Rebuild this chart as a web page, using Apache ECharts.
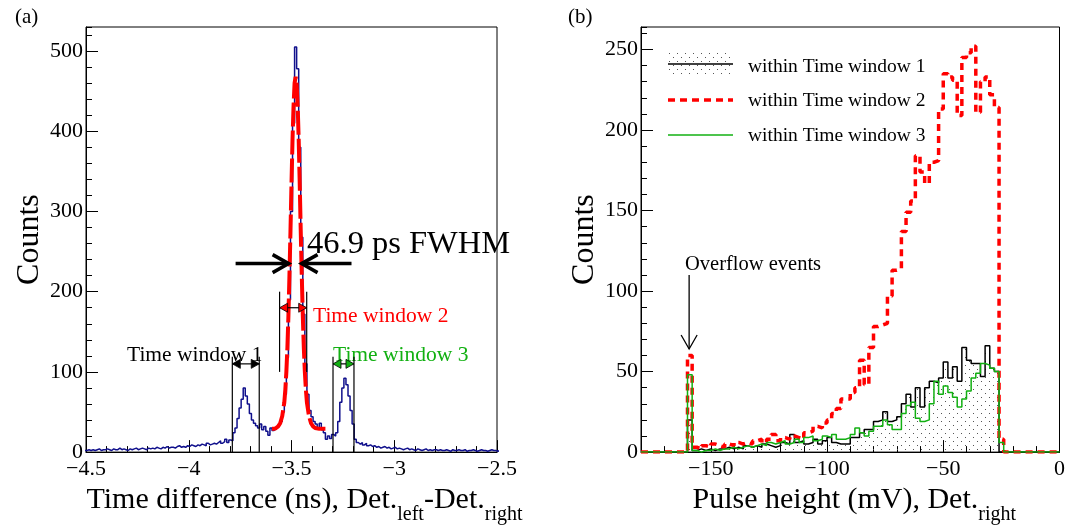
<!DOCTYPE html>
<html><head><meta charset="utf-8">
<script src="https://cdn.jsdelivr.net/npm/echarts@6/dist/echarts.min.js"></script>
<style>html,body{margin:0;padding:0;background:#fff}#c{width:1068px;height:530px}</style>
</head><body><div id="c"></div>
<script>
// ---------- Panel (a): time difference histogram ----------
const timeBinStart = -4.505;
const timeBinWidth = 0.01;
const timeCounts = [
 2,3,
 2,3,2,3,4,2,3,3,4,3, 2,4,3,3,5,3,4,3,2,4, 3,4,5,3,4,5,4,3,5,4,
 5,4,6,5,4,6,5,7,5,6, 6,5,7,8,6,7,6,8,7,9, 8,7,9,8,10,9,8,11,9,10,
 11,10,12,14,11,13,16,12,15,14, 24,30,42,55,66,80,70,60,48,40,
 36,33,30,35,28,32,26,21,30,27, 29,31,34,38,50,72,118,190,300,410,
 505,478,380,268,172,110,72,52,44,38, 35,30,36,28,24,16,20,17,22,20,
 24,38,62,80,92,84,70,52,35,16, 12,10,12,9,11,8,9,7,8,6,
 7,5,6,7,5,6,4,5,6,4, 5,4,3,4,5,3,4,3,2,4,
 3,2,3,4,2,3,2,3,3,2, 3,2,2,3,2,1,3,2,2,3,
 2,2,3,1,2,2,3,2,1,2, 3,2,2,1,2,3,2,2,1,2
];
const fitTimes  = [-3.595,-3.585,-3.575,-3.565,-3.555,-3.545,-3.535,-3.53,-3.525,-3.52,-3.515,-3.51,-3.505,-3.50,-3.495,-3.49,-3.485,-3.48,-3.475,-3.47,-3.465,-3.46,-3.455,-3.45,-3.445,-3.44,-3.435,-3.43,-3.425,-3.415,-3.405,-3.395,-3.385,-3.365,-3.335];
const fitCounts = [29,29,30,32,36,45,62,78,100,130,170,220,275,335,390,432,460,468,460,432,390,335,275,220,170,130,100,78,62,45,36,32,30,29,29];
const timeTicks = [-4.5,-4,-3.5,-3,-2.5];
const countTicksA = [0,100,200,300,400,500];
// windows: [low edge, high edge, line bottom, line top, arrow height, colour index]
const timeWindows = [
 [-3.788,-3.657,0,119,110,0],
 [-3.558,-3.426,100,200,180,1],
 [-3.298,-3.196,0,119,110,2]
];
const windowLabels = ['Time window 1','Time window 2','Time window 3'];
// FWHM arrows: [tail, tip, height]
const fwhmArrows = [[-3.772,-3.514,235],[-3.208,-3.451,235]];

// ---------- Panel (b): pulse height histograms ----------
const pulseBinStart = -180;
const pulseBinWidth = 2;
const win1Counts = [
 0,0,0,0,0,0,0,0,0,0,
 20,1,2,1,2,1,2,2,3,2, 3,2,4,3,4,3,5,4,3,4,
 6,5,11,6,7,5,6,8,5,7, 9,6,5,5,5,9,9,12,14,14,
 19,20,25,19,20,22,30,36,28,40, 28,40,44,43,46,56,46,53,44,65,
 57,55,55,47,66,52,50,0,0,0, 0,0,0,0,0,0,0,0,0,0
];
const win2Counts = [
 0,0,0,0,0,0,0,0,0,0,
 60,3,2,4,3,5,4,3,5,4, 6,5,6,5,7,8,6,8,11,7,
 9,8,10,9,8,12,13,16,15,18, 20,24,27,33,33,37,40,57,42,65,
 78,79,80,97,113,114,137,149,156,184, 174,167,180,181,213,235,233,231,209,245,
 248,252,211,230,233,222,214,8,0,0, 0,0,0,0,0,0,0,0,0,0
];
const win3Counts = [
 0,0,0,0,0,0,0,0,0,0,
 48,1,0,1,1,2,1,2,2,3, 2,3,4,3,4,5,4,6,5,6,
 7,5,6,8,6,9,10,7,8,10, 9,11,8,8,9,11,15,12,10,13,
 16,16,20,17,14,14,24,29,31,21, 19,20,30,44,36,41,37,34,28,33,
 38,46,49,55,54,52,50,6,0,0, 0,0,0,0,0,0,0,0,0,0
];
const pulseTicks = [-150,-100,-50,0];
const countTicksB = [0,50,100,150,200,250];
const legendLabels = ['within Time window 1','within Time window 2','within Time window 3'];
// overflow arrow: [x, tail height, tip height]
const overflowArrow = [[-159.3,110,64]];

// ---------- helpers ----------
const FONT = 'Liberation Serif';
const RED = '#ff0000', GREEN = '#12b012', BLUE = '#10108c';
const COLORS = ['#000000', RED, GREEN];
function stepPoints(start, width, counts, toZero) {
  const pts = [];
  if (toZero) pts.push([start, 0]);
  counts.forEach((v, i) => {
    pts.push([+(start + i * width).toFixed(4), v]);
    pts.push([+(start + (i + 1) * width).toFixed(4), v]);
  });
  if (toZero) pts.push([+(start + counts.length * width).toFixed(4), 0]);
  return pts;
}
const minusFmt = v => String(+(+v).toFixed(4)).replace('-', '\u2212');

// dotted fill pattern
const pc = document.createElement('canvas');
pc.width = 8; pc.height = 8;
const pg = pc.getContext('2d');
pg.fillStyle = '#555';
pg.fillRect(1, 1, 1, 1); pg.fillRect(5, 5, 1, 1);
const dotPattern = { image: pc, repeat: 'repeat' };

const labelStyle = { fontFamily: FONT, fontSize: 22, color: '#000' };
function majorAxis(grid, min, max, ticks, extra) {
  return Object.assign({
    gridIndex: grid, type: 'value', min: min, max: max,
    axisLine: { show: true, onZero: false, lineStyle: { color: '#000', width: 1 } },
    axisTick: { show: true, inside: true, length: 12, customValues: ticks, lineStyle: { color: '#000', width: 1 } },
    axisLabel: Object.assign({ customValues: ticks, formatter: minusFmt }, labelStyle),
    splitLine: { show: false }
  }, extra);
}
function minorAxis(grid, min, max, interval, pos) {
  return {
    gridIndex: grid, type: 'value', min: min, max: max, interval: interval, position: pos,
    axisLine: { show: false, onZero: false },
    axisTick: { show: true, inside: true, length: 6, lineStyle: { color: '#000', width: 1 } },
    axisLabel: { show: false }, splitLine: { show: false }
  };
}
function xNameStyle(padLeft) {
  return {
    padding: [0, 0, 0, padLeft],
    rich: {
      a: { fontFamily: FONT, fontSize: 30, color: '#000', lineHeight: 50, verticalAlign: 'middle' },
      s: { fontFamily: FONT, fontSize: 20, color: '#000', lineHeight: 20, verticalAlign: 'bottom' }
    }
  };
}

const chart = echarts.init(document.getElementById('c'));
chart.setOption({
  animation: false,
  backgroundColor: '#fff',
  grid: [
    { left: 86, top: 27, width: 411, height: 433, show: true, borderColor: '#000', borderWidth: 1, backgroundColor: 'transparent' },
    { left: 641, top: 27, width: 422, height: 433, show: true, borderColor: '#000', borderWidth: 1, backgroundColor: 'transparent' }
  ],
  xAxis: [
    majorAxis(0, -4.5, -2.5, timeTicks, {
      position: 'bottom', axisLabel: Object.assign({ customValues: timeTicks, formatter: minusFmt, margin: 6 }, labelStyle),
      name: '{a|Time difference (ns), Det.}{s|left}{a|-Det.}{s|right}',
      nameLocation: 'middle', nameGap: 19, nameTextStyle: xNameStyle(26)
    }),
    minorAxis(0, -4.5, -2.5, 0.1, 'bottom'),
    majorAxis(1, -180, 0, pulseTicks, {
      position: 'bottom', axisLabel: Object.assign({ customValues: pulseTicks, formatter: minusFmt, margin: 6 }, labelStyle),
      name: '{a|Pulse height (mV), Det.}{s|right}',
      nameLocation: 'middle', nameGap: 19, nameTextStyle: xNameStyle(8)
    }),
    minorAxis(1, -180, 0, 10, 'bottom')
  ],
  yAxis: [
    majorAxis(0, 0, 530, countTicksA, {
      position: 'left', axisLabel: Object.assign({ customValues: countTicksA, margin: 3 }, labelStyle),
      name: 'Counts', nameLocation: 'middle', nameGap: 40,
      nameTextStyle: { fontFamily: FONT, fontSize: 32, color: '#000' }
    }),
    minorAxis(0, 0, 530, 20, 'left'),
    majorAxis(1, 0, 264, countTicksB, {
      position: 'left', axisLabel: Object.assign({ customValues: countTicksB, margin: 3 }, labelStyle),
      name: 'Counts', nameLocation: 'middle', nameGap: 40,
      nameTextStyle: { fontFamily: FONT, fontSize: 32, color: '#000' }
    }),
    minorAxis(1, 0, 264, 10, 'left')
  ],
  series: [
    { type: 'line', xAxisIndex: 0, yAxisIndex: 0, data: stepPoints(timeBinStart, timeBinWidth, timeCounts, false),
      showSymbol: false, clip: true, lineStyle: { color: BLUE, width: 1.5 }, z: 3 },
    { type: 'line', xAxisIndex: 0, yAxisIndex: 0, data: fitTimes.map((t, i) => [t, fitCounts[i]]),
      showSymbol: false, lineStyle: { color: RED, width: 4, type: [24, 4] }, z: 4 },
    { type: 'custom', xAxisIndex: 0, yAxisIndex: 0, data: timeWindows, z: 5,
      renderItem: function (params, api) {
        const lo = api.value(0), hi = api.value(1), y0 = api.value(2), y1 = api.value(3), ya = api.value(4);
        const c = COLORS[api.value(5)];
        const p0 = api.coord([lo, y0]), p1 = api.coord([lo, y1]);
        const q0 = api.coord([hi, y0]), q1 = api.coord([hi, y1]);
        const a = api.coord([lo, ya]), b = api.coord([hi, ya]);
        const L = 8, W = 4.5;
        const ls = { stroke: '#000', lineWidth: 1.2 };
        return { type: 'group', children: [
          { type: 'line', shape: { x1: p0[0], y1: p0[1], x2: p1[0], y2: p1[1] }, style: ls },
          { type: 'line', shape: { x1: q0[0], y1: q0[1], x2: q1[0], y2: q1[1] }, style: ls },
          { type: 'line', shape: { x1: a[0], y1: a[1], x2: b[0], y2: b[1] }, style: ls },
          { type: 'polygon', shape: { points: [[a[0], a[1]], [a[0] + L, a[1] - W], [a[0] + L, a[1] + W]] }, style: { fill: c, stroke: '#000', lineWidth: 0.8 } },
          { type: 'polygon', shape: { points: [[b[0], b[1]], [b[0] - L, b[1] - W], [b[0] - L, b[1] + W]] }, style: { fill: c, stroke: '#000', lineWidth: 0.8 } }
        ] };
      } },
    { type: 'custom', xAxisIndex: 0, yAxisIndex: 0, data: fwhmArrows, z: 5,
      renderItem: function (params, api) {
        const t = api.coord([api.value(0), api.value(2)]), h = api.coord([api.value(1), api.value(2)]);
        const d = h[0] > t[0] ? 1 : -1, L = 16, W = 9;
        const st = { stroke: '#000', lineWidth: 3.5, fill: null };
        return { type: 'group', children: [
          { type: 'line', shape: { x1: t[0], y1: t[1], x2: h[0], y2: h[1] }, style: st },
          { type: 'polyline', shape: { points: [[h[0] - d * L, h[1] - W], [h[0], h[1]], [h[0] - d * L, h[1] + W]] }, style: st }
        ] };
      } },
    // panel (b)
    { type: 'line', xAxisIndex: 2, yAxisIndex: 2, data: stepPoints(pulseBinStart, pulseBinWidth, win1Counts, true),
      showSymbol: false, lineStyle: { color: '#000', width: 1.5 }, areaStyle: { color: dotPattern, opacity: 1 }, z: 2 },
    { type: 'line', xAxisIndex: 2, yAxisIndex: 2, data: stepPoints(pulseBinStart, pulseBinWidth, win2Counts, true),
      showSymbol: false, lineStyle: { color: RED, width: 3.5, type: [7, 5] }, z: 3 },
    { type: 'line', xAxisIndex: 2, yAxisIndex: 2, data: stepPoints(pulseBinStart, pulseBinWidth, win3Counts, true),
      showSymbol: false, lineStyle: { color: GREEN, width: 1.5 }, z: 4 },
    { type: 'custom', xAxisIndex: 2, yAxisIndex: 2, data: overflowArrow, z: 5,
      renderItem: function (params, api) {
        const t = api.coord([api.value(0), api.value(1)]), h = api.coord([api.value(0), api.value(2)]);
        const L = 14, W = 8;
        const st = { stroke: '#000', lineWidth: 1.3, fill: null };
        return { type: 'group', children: [
          { type: 'line', shape: { x1: t[0], y1: t[1], x2: h[0], y2: h[1] }, style: st },
          { type: 'polyline', shape: { points: [[h[0] - W, h[1] - L], [h[0], h[1]], [h[0] + W, h[1] - L]] }, style: st }
        ] };
      } }
  ],
  graphic: [
    { type: 'text', left: 15, top: 7, style: { text: '(a)', font: '21px "Liberation Serif"', fill: '#000' } },
    { type: 'text', left: 568, top: 7, style: { text: '(b)', font: '21px "Liberation Serif"', fill: '#000' } },
    { type: 'text', left: 307, top: 228, style: { text: '46.9 ps FWHM', font: '32.5px "Liberation Serif"', fill: '#000' } },
    { type: 'text', left: 127, top: 344, style: { text: windowLabels[0], font: '21.5px "Liberation Serif"', fill: '#000' } },
    { type: 'text', left: 313, top: 305, style: { text: windowLabels[1], font: '21.5px "Liberation Serif"', fill: RED } },
    { type: 'text', left: 333, top: 344, style: { text: windowLabels[2], font: '21.5px "Liberation Serif"', fill: GREEN } },
    { type: 'text', left: 685, top: 254, style: { text: 'Overflow events', font: '20.5px "Liberation Serif"', fill: '#000' } },
    // legend
    { type: 'rect', shape: { x: 668, y: 52, width: 65, height: 23 }, style: { fill: dotPattern, stroke: null } },
    { type: 'line', shape: { x1: 668, y1: 64, x2: 733, y2: 64 }, style: { stroke: '#000', lineWidth: 1.5 } },
    { type: 'line', shape: { x1: 668, y1: 100, x2: 733, y2: 100 }, style: { stroke: RED, lineWidth: 3.5, lineDash: [7, 5] } },
    { type: 'line', shape: { x1: 668, y1: 135, x2: 733, y2: 135 }, style: { stroke: GREEN, lineWidth: 1.5 } },
    { type: 'text', left: 748, top: 57, style: { text: legendLabels[0], font: '19.5px "Liberation Serif"', fill: '#000' } },
    { type: 'text', left: 748, top: 91, style: { text: legendLabels[1], font: '19.5px "Liberation Serif"', fill: '#000' } },
    { type: 'text', left: 748, top: 126, style: { text: legendLabels[2], font: '19.5px "Liberation Serif"', fill: '#000' } }
  ]
});
</script></body></html>
